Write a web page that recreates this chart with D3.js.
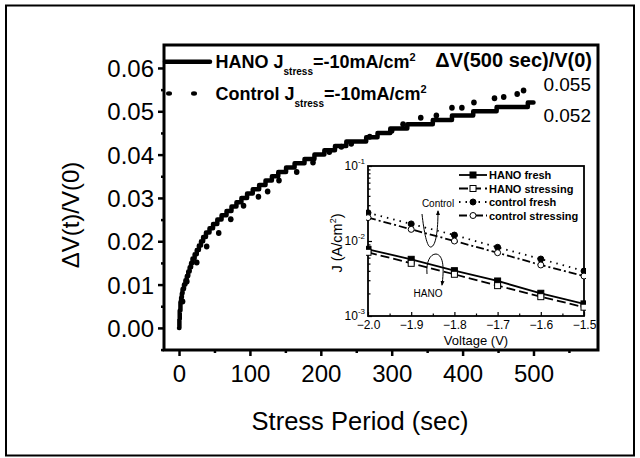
<!DOCTYPE html>
<html>
<head>
<meta charset="utf-8">
<script src="https://cdn.jsdelivr.net/npm/d3@7"></script>
<style>
  html, body { margin: 0; padding: 0; background: #fff; }
  svg { display: block; }
  text { font-family: "Liberation Sans", Arial, sans-serif; fill: #000; }
</style>
</head>
<body>
<svg id="chart" width="640" height="458"></svg>
<script>
// ---- main plot data: stress time (s) vs relative voltage shift ----
const hanoTime  = [0, 0.5, 1, 2, 3, 4, 5, 7, 9, 11, 13, 15, 17, 19, 22, 25, 28, 31, 34, 38, 43, 48, 54, 60, 67, 74, 81, 88, 96, 104, 113, 122, 131, 140, 151, 163, 177, 191, 205, 220, 236, 264, 280, 298, 322, 358, 385, 415, 448, 492, 500];
const hanoShift = [0, 0.002, 0.004, 0.006, 0.007, 0.008, 0.009, 0.010, 0.011, 0.012, 0.013, 0.014, 0.015, 0.016, 0.017, 0.018, 0.019, 0.020, 0.021, 0.022, 0.023, 0.024, 0.025, 0.026, 0.027, 0.028, 0.029, 0.030, 0.031, 0.032, 0.033, 0.034, 0.035, 0.036, 0.037, 0.038, 0.039, 0.040, 0.041, 0.042, 0.043, 0.044, 0.045, 0.046, 0.047, 0.048, 0.049, 0.050, 0.051, 0.052, 0.052];

const controlTime  = [5, 11, 25, 39, 56, 73, 91, 112, 125, 141, 166, 189, 212, 229, 243, 269, 300, 316, 341, 363, 385, 399, 416, 445, 458, 477, 486];
const controlShift = [0.0061, 0.0107, 0.0151, 0.0188, 0.0219, 0.0251, 0.0282, 0.0303, 0.0315, 0.0340, 0.0360, 0.0382, 0.0406, 0.0418, 0.0425, 0.0441, 0.0455, 0.0470, 0.0485, 0.0490, 0.0508, 0.0508, 0.0520, 0.0530, 0.0533, 0.0540, 0.0548];

const xTicks = [0, 100, 200, 300, 400, 500];
const xMinorTicks = [50, 150, 250, 350, 450, 550];
const yTicks = [0.00, 0.01, 0.02, 0.03, 0.04, 0.05, 0.06];
const yMinorTicks = [-0.005, 0.005, 0.015, 0.025, 0.035, 0.045, 0.055];
const endValues = ["0.055", "0.052"];

// ---- inset data: J-V curves, fresh and after stressing ----
const voltage = [-2.0, -1.9, -1.8, -1.7, -1.6, -1.5];
const hanoFresh        = [7.74e-3, 5.70e-3, 4.02e-3, 2.93e-3, 2.01e-3, 1.45e-3];
const hanoStressing    = [7.07e-3, 5.04e-3, 3.60e-3, 2.54e-3, 1.81e-3, 1.31e-3];
const controlFresh     = [2.38e-2, 1.69e-2, 1.20e-2, 8.24e-3, 5.75e-3, 3.98e-3];
const controlStressing = [2.05e-2, 1.43e-2, 1.00e-2, 6.98e-3, 4.79e-3, 3.41e-3];
const insetXTicks = [-2.0, -1.9, -1.8, -1.7, -1.6, -1.5];
const insetXMinor = [-1.95, -1.85, -1.75, -1.65, -1.55];
const insetYTicks = [1e-3, 1e-2, 1e-1];

const svg = d3.select("#chart");

// outer frame
svg.append("rect").attr("x", 6).attr("y", 5.5).attr("width", 628).attr("height", 450)
  .attr("fill", "#fff").attr("stroke", "#000").attr("stroke-width", 2);

// ---- main scales ----
const x = d3.scaleLinear().domain([-21.2, 591]).range([164, 598]);
const y = d3.scaleLinear().domain([-0.0051, 0.0653]).range([350, 45]);

// axes
const gx = svg.append("g").attr("transform", "translate(0,350)");
gx.call(d3.axisBottom(x).tickValues(xTicks).tickSize(6).tickPadding(6).tickFormat(d3.format("d")));
const gxm = svg.append("g").attr("transform", "translate(0,350)");
gxm.call(d3.axisBottom(x).tickValues(xMinorTicks).tickSize(3).tickFormat(""));
const gy = svg.append("g").attr("transform", "translate(164,0)");
gy.call(d3.axisLeft(y).tickValues(yTicks).tickSize(6).tickPadding(4).tickFormat(d3.format(".2f")));
const gym = svg.append("g").attr("transform", "translate(164,0)");
gym.call(d3.axisLeft(y).tickValues(yMinorTicks).tickSize(3).tickFormat(""));

[gx, gxm, gy, gym].forEach(g => {
  g.select(".domain").remove();
  g.selectAll(".tick line").attr("stroke", "#000").attr("stroke-width", 2.5);
  g.selectAll("text").attr("font-size", 24).attr("font-family", "Liberation Sans, Arial, sans-serif").attr("fill", "#000");
});
gx.selectAll("text").attr("dy", "0.85em");
gy.selectAll("text").attr("dy", "0.36em");

// frame of the main plot
svg.append("rect").attr("x", 164).attr("y", 45).attr("width", 434).attr("height", 305)
  .attr("fill", "none").attr("stroke", "#000").attr("stroke-width", 3);

// axis titles
svg.append("text").attr("x", 360).attr("y", 430).attr("text-anchor", "middle")
  .attr("font-size", 25.5).text("Stress Period (sec)");
svg.append("text").attr("transform", "translate(79,215) rotate(-90)").attr("text-anchor", "middle")
  .attr("font-size", 24).text("\u0394V(t)/V(0)");

// HANO curve
const hanoPts = hanoTime.map((t, i) => [t, hanoShift[i]]);
const line = d3.line().x(d => x(d[0])).y(d => y(d[1])).curve(d3.curveStepAfter);
svg.append("path").datum(hanoPts).attr("d", line)
  .attr("fill", "none").attr("stroke", "#000").attr("stroke-width", 4.5)
  .attr("stroke-linejoin", "round").attr("stroke-linecap", "round");

// Control curve (dotted)
svg.append("g").selectAll("ellipse").data(controlTime.map((t, i) => [t, controlShift[i]]))
  .join("ellipse")
  .attr("cx", d => x(d[0])).attr("cy", d => y(d[1]))
  .attr("rx", 2.8).attr("ry", 3).attr("fill", "#000");

// legend
svg.append("line").attr("x1", 165).attr("x2", 210).attr("y1", 61.7).attr("y2", 61.7)
  .attr("stroke", "#000").attr("stroke-width", 4.5).attr("stroke-linecap", "round");
[169, 194].forEach(cx => svg.append("ellipse").attr("cx", cx).attr("cy", 93.5)
  .attr("rx", 3).attr("ry", 2.2).attr("fill", "#000"));

function legendLabel(xp, yp, name) {
  const t = svg.append("text").attr("x", xp).attr("y", yp).attr("font-size", 18).attr("font-weight", "bold");
  t.append("tspan").text(name + " J");
  t.append("tspan").attr("font-size", 10).attr("dy", 7).text("stress");
  t.append("tspan").attr("dy", -7).text("=-10mA/cm");
  t.append("tspan").attr("font-size", 11).attr("dy", -7).text("2");
}
legendLabel(215.5, 68, "HANO");
legendLabel(215.5, 100, "Control");

svg.append("text").attr("x", 592).attr("y", 67).attr("text-anchor", "end")
  .attr("font-size", 20).attr("font-weight", "bold").text("\u0394V(500 sec)/V(0)");
svg.append("text").attr("x", 591).attr("y", 90.5).attr("text-anchor", "end")
  .attr("font-size", 19).text(endValues[0]);
svg.append("text").attr("x", 591).attr("y", 121.5).attr("text-anchor", "end")
  .attr("font-size", 19).text(endValues[1]);

// ---- inset ----
const xi = d3.scaleLinear().domain([-2.0, -1.5]).range([368, 584]);
const yi = d3.scaleLog().domain([1e-3, 1e-1]).range([316, 166]);

svg.append("rect").attr("x", 368).attr("y", 166).attr("width", 216).attr("height", 150)
  .attr("fill", "#fff").attr("stroke", "none");

const insetMinorY = [];
[1e-3, 1e-2].forEach(b => { for (let k = 2; k <= 9; k++) insetMinorY.push(b * k); });

const gix = svg.append("g").attr("transform", "translate(0,316)");
gix.call(d3.axisBottom(xi).tickValues(insetXTicks).tickSize(-4).tickPadding(4).tickFormat(d3.format(".1f")));
const gixm = svg.append("g").attr("transform", "translate(0,316)");
gixm.call(d3.axisBottom(xi).tickValues(insetXMinor).tickSize(-2.5).tickFormat(""));
const giy = svg.append("g").attr("transform", "translate(368,0)");
giy.call(d3.axisLeft(yi).tickValues(insetYTicks).tickSize(-4).tickFormat(""));
const giym = svg.append("g").attr("transform", "translate(368,0)");
giym.call(d3.axisLeft(yi).tickValues(insetMinorY).tickSize(-2.5).tickFormat(""));
[gix, gixm, giy, giym].forEach(g => {
  g.select(".domain").remove();
  g.selectAll(".tick line").attr("stroke", "#000").attr("stroke-width", 1.2);
  g.selectAll("text").attr("font-size", 12).attr("font-family", "Liberation Sans, Arial, sans-serif").attr("fill", "#000");
});
// place the voltage labels just under the inset axis
gix.selectAll("text").attr("y", 0).attr("dy", 13);

// log axis labels as 10^n
const yLabels = svg.append("g");
insetYTicks.forEach(v => {
  const t = yLabels.append("text").attr("x", 365).attr("y", yi(v) + 4).attr("text-anchor", "end").attr("font-size", 12);
  t.append("tspan").text("10");
  t.append("tspan").attr("font-size", 8).attr("dy", -6).text(String(Math.round(Math.log10(v))));
});

svg.append("rect").attr("x", 368).attr("y", 166).attr("width", 216).attr("height", 150)
  .attr("fill", "none").attr("stroke", "#000").attr("stroke-width", 1.8);

svg.append("text").attr("x", 476).attr("y", 345).attr("text-anchor", "middle")
  .attr("font-size", 13).text("Voltage (V)");
const jt = svg.append("text").attr("transform", "translate(342,243) rotate(-90)")
  .attr("text-anchor", "middle").attr("font-size", 14.5);
jt.append("tspan").text("J (A/cm");
jt.append("tspan").attr("font-size", 9).attr("dy", -6).text("2");
jt.append("tspan").attr("dy", 6).text(")");

const insetSeries = [
  { name: "HANO fresh", values: hanoFresh, dash: null, marker: "square", fill: "#000" },
  { name: "HANO stressing", values: hanoStressing, dash: "9,4", marker: "square", fill: "#fff" },
  { name: "control fresh", values: controlFresh, dash: "1.5,5", marker: "circle", fill: "#000" },
  { name: "control stressing", values: controlStressing, dash: "8,3,2,3", marker: "circle", fill: "#fff" }
];
const iline = d3.line().x(d => xi(d[0])).y(d => yi(d[1]));
const clipI = svg.append("clipPath").attr("id", "insetClip");
clipI.append("rect").attr("x", 366).attr("y", 164).attr("width", 220).attr("height", 154);

function marker(g, kind, fill, cx, cy) {
  if (kind === "square") {
    g.append("rect").attr("x", cx - 3).attr("y", cy - 3).attr("width", 6).attr("height", 6)
      .attr("fill", fill).attr("stroke", "#000").attr("stroke-width", 1);
  } else {
    g.append("circle").attr("cx", cx).attr("cy", cy).attr("r", 3)
      .attr("fill", fill).attr("stroke", "#000").attr("stroke-width", 1);
  }
}

const ig = svg.append("g").attr("clip-path", "url(#insetClip)");
insetSeries.forEach(s => {
  const pts = voltage.map((v, i) => [v, s.values[i]]);
  ig.append("path").datum(pts).attr("d", iline).attr("fill", "none")
    .attr("stroke", "#000").attr("stroke-width", 1.8)
    .attr("stroke-dasharray", s.dash);
  pts.forEach(p => marker(ig, s.marker, s.fill, xi(p[0]), yi(p[1])));
});

// inset legend
insetSeries.forEach((s, i) => {
  const ly = 175 + i * 13.5;
  svg.append("line").attr("x1", 459).attr("x2", 487).attr("y1", ly).attr("y2", ly)
    .attr("stroke", "#000").attr("stroke-width", 1.8).attr("stroke-dasharray", s.dash);
  marker(svg, s.marker, s.fill, 473, ly);
  svg.append("text").attr("x", 489).attr("y", ly + 4).attr("font-size", 11)
    .attr("font-weight", "bold").text(s.name);
});

// annotations
svg.append("defs").append("marker").attr("id", "arrow").attr("viewBox", "0 0 10 10")
  .attr("refX", 8).attr("refY", 5).attr("markerWidth", 5).attr("markerHeight", 5)
  .attr("orient", "auto")
  .append("path").attr("d", "M0,1 L10,5 L0,9 z").attr("fill", "#000");

svg.append("text").attr("x", 438).attr("y", 207).attr("text-anchor", "middle").attr("font-size", 10).text("Control");
svg.append("path").attr("d", "M422,214 C424,232 427,248 431,247 C436,246 438,230 438,211")
  .attr("fill", "none").attr("stroke", "#000").attr("stroke-width", 1).attr("marker-end", "url(#arrow)");
svg.append("text").attr("x", 428).attr("y", 297).attr("text-anchor", "middle").attr("font-size", 10).text("HANO");
svg.append("path").attr("d", "M427,274 C426,262 430,254 436,254 C444,255 444,270 442,285")
  .attr("fill", "none").attr("stroke", "#000").attr("stroke-width", 1).attr("marker-end", "url(#arrow)");
</script>
</body>
</html>
